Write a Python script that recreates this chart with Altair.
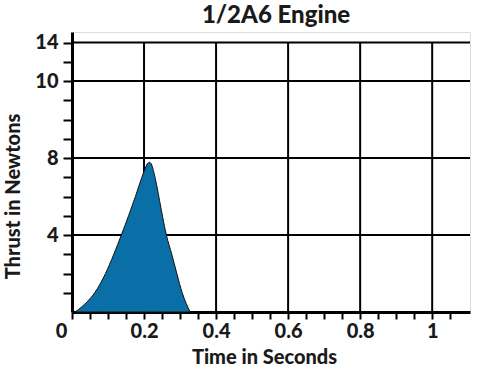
import altair as alt
import pandas as pd

# Thrust curve
time_s = [0.009, 0.044, 0.063, 0.093, 0.116, 0.137, 0.157, 0.176, 0.194, 0.202,
          0.209, 0.2147, 0.220, 0.226, 0.235, 0.243, 0.252, 0.262, 0.277, 0.291,
          0.306, 0.328]
thrust_n = [0.0, 0.57, 1.0, 2.0, 3.0, 4.0, 5.0, 6.0, 7.0, 7.4,
            7.7, 7.78, 7.7, 7.35, 6.6, 5.8, 4.9, 4.0, 3.0, 2.0,
            1.0, 0.0]

# Axis ticks / labels
x_ticks = [0, 0.05, 0.1, 0.15, 0.2, 0.25, 0.3, 0.35, 0.4, 0.45, 0.5, 0.55,
           0.6, 0.65, 0.7, 0.75, 0.8, 0.85, 0.9, 0.95, 1.0, 1.05]
x_major = [0, 0.2, 0.4, 0.6, 0.8, 1.0]
x_major_labels = ["0", "0.2", "0.4", "0.6", "0.8", "1"]
y_ticks = list(range(1, 15))
y_major = [4, 8, 12, 14]
y_major_labels = ["4", "8", "10", "14"]

X_MAX = 1.105
Y_MAX = 14.55
FONT = "Lato"
WEIGHT = 900
INK = "#1a1a1a"

curve = pd.DataFrame({"t": time_s, "f": thrust_n})
vgrid = pd.DataFrame({"x": x_major[1:], "y0": [0] * (len(x_major) - 1), "y1": [14] * (len(x_major) - 1)})
hgrid = pd.DataFrame({"y": y_major, "x0": [0] * len(y_major), "x1": [X_MAX] * len(y_major)})

xlab_expr = "".join(
    f"abs(datum.value - {v}) < 0.001 ? '{l}' : " for v, l in zip(x_major, x_major_labels)
) + "''"
ylab_expr = "".join(
    f"abs(datum.value - {v}) < 0.001 ? '{l}' : " for v, l in zip(y_major, y_major_labels)
) + "''"

xscale = alt.Scale(domain=[0, X_MAX], nice=False, zero=False)
yscale = alt.Scale(domain=[0, Y_MAX], nice=False, zero=False)

x_axis = alt.Axis(
    values=x_ticks, labelExpr=xlab_expr, title="Time in Seconds",
    grid=False, tickSize=7, tickWidth=2, tickColor="black",
    domainColor="black", domainWidth=3, labelFont=FONT, labelFontSize=20,
    labelFontWeight=WEIGHT, labelColor=INK, labelPadding=2, labelOverlap=False,
    labelFlush=False,
    labelOffset={"condition": {"test": "datum.value == 0", "value": -11}, "value": 0},
    titleFont=FONT, titleFontSize=20, titleFontWeight=WEIGHT, titleColor=INK,
    titlePadding=6, titleX=192, titleAnchor="middle",
)
y_axis = alt.Axis(
    values=y_ticks, labelExpr=ylab_expr, title="Thrust in Newtons",
    grid=False, tickSize=9, tickWidth=2, tickColor="black",
    domainColor="black", domainWidth=3, labelFont=FONT, labelFontSize=20,
    labelFontWeight=WEIGHT, labelColor=INK, labelPadding=5, labelOverlap=False,
    labelFlush=False, labelBound=False,
    titleFont=FONT, titleFontSize=20, titleFontWeight=WEIGHT, titleColor=INK,
    titleX=-49, titleY=164, titleAnchor="middle",
)

vrules = alt.Chart(vgrid).mark_rule(color="black", strokeWidth=2).encode(
    x=alt.X("x:Q", scale=xscale, axis=x_axis),
    y=alt.Y("y0:Q", scale=yscale, axis=y_axis),
    y2="y1:Q",
)
hrules = alt.Chart(hgrid).mark_rule(color="black", strokeWidth=2).encode(
    y=alt.Y("y:Q", scale=yscale, axis=y_axis),
    x=alt.X("x0:Q", scale=xscale, axis=x_axis),
    x2="x1:Q",
)
area = alt.Chart(curve).mark_area(
    color="#0b6fa7", stroke="#111111", strokeWidth=1, interpolate="monotone"
).encode(
    x=alt.X("t:Q", scale=xscale, axis=x_axis),
    y=alt.Y("f:Q", scale=yscale, axis=y_axis),
)

chart = alt.layer(vrules, hrules, area).properties(
    width=398, height=280,
    title=alt.TitleParams("1/2A6 Engine", font=FONT, fontSize=24, fontWeight=WEIGHT,
                          color=INK, anchor="middle", dx=5, offset=4),
    autosize=alt.AutoSizeParams(type="none"),
    padding={"left": 72, "top": 32, "right": 10, "bottom": 59},
).configure_view(stroke=None).configure(background="white")

chart.save("out.html", embed_options={"renderer": "svg", "actions": False})
